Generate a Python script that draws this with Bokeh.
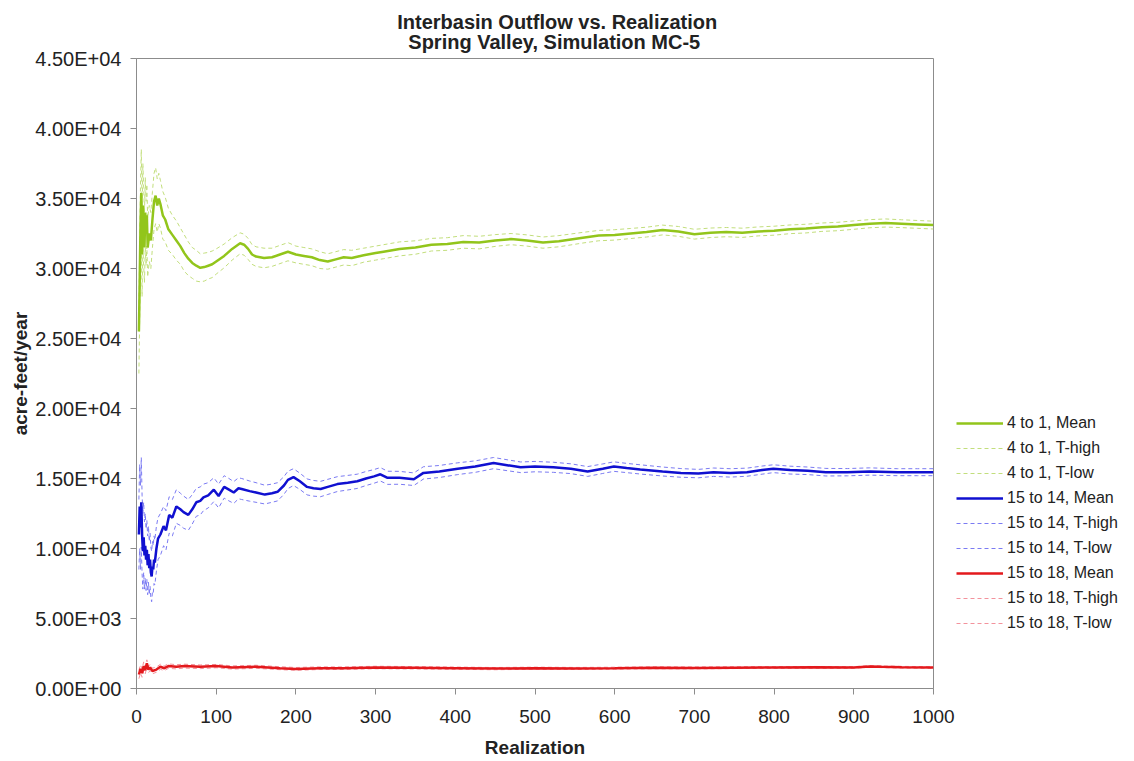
from bokeh.plotting import figure
from bokeh.layouts import row
from bokeh.models import (FixedTicker, CustomJSTickFormatter, Legend, LegendItem,
                          Range1d)
from bokeh.embed import file_html
from bokeh.resources import INLINE

FONT = "Liberation Sans"

title_line1 = "Interbasin Outflow vs. Realization"
title_line2 = "Spring Valley, Simulation MC-5"
x_label = "Realization"
y_label = "acre-feet/year"

x_ticks = [0, 100, 200, 300, 400, 500, 600, 700, 800, 900, 1000]
y_ticks = [0, 5000, 10000, 15000, 20000, 25000, 30000, 35000, 40000, 45000]

# ---- 4 to 1 ----
g_x = [3, 4, 5, 6, 7, 8, 9, 10, 11, 12, 13, 14, 16, 18, 20, 22, 24, 26, 28, 30,
       33, 36, 40, 45, 50, 55, 60, 65, 70, 75, 80, 85, 90, 95, 100, 110, 120, 130,
       135, 140, 145, 150, 160, 170, 180, 190, 200, 210, 220, 230, 240, 250, 260,
       270, 285, 300, 310, 330, 350, 370, 390, 410, 430, 450, 470, 490, 510, 530,
       560, 580, 600, 620, 640, 660, 680, 700, 720, 740, 760, 780, 800, 820, 840,
       860, 880, 900, 920, 940, 960, 980, 1000]
g_mean = [25500, 29000, 33000, 35400, 31000, 34500, 33000, 31500, 34000, 32500,
          33800, 31500, 32500, 32000, 33500, 34800, 35200, 34500, 35000, 34600,
          33800, 33500, 32800, 32400, 32000, 31600, 31100, 30700, 30400, 30200,
          30050, 30100, 30200, 30300, 30500, 30900, 31400, 31800, 31700, 31400,
          31000, 30850, 30750, 30800, 31000, 31200, 31000, 30900, 30800, 30600,
          30500, 30650, 30800, 30750, 30950, 31100, 31200, 31400, 31500, 31700,
          31750, 31900, 31850, 32000, 32100, 32000, 31850, 31950, 32200, 32350,
          32400, 32500, 32600, 32750, 32650, 32450, 32550, 32600, 32550, 32650,
          32700, 32800, 32850, 32950, 33000, 33100, 33200, 33250, 33200, 33150,
          33100]
g_high = [27000, 31500, 36000, 38500, 34000, 37500, 35800, 34000, 36500, 34800,
          36000, 33600, 34500, 34000, 35500, 36800, 37200, 36400, 36800, 36300,
          35500, 35100, 34300, 33800, 33400, 32900, 32400, 31900, 31500, 31300,
          31050, 31100, 31150, 31250, 31400, 31750, 32200, 32550, 32450, 32150,
          31700, 31550, 31450, 31450, 31650, 31850, 31600, 31500, 31400, 31200,
          31050, 31200, 31350, 31300, 31450, 31600, 31700, 31900, 31980, 32150,
          32200, 32350, 32300, 32420, 32500, 32400, 32250, 32350, 32580, 32720,
          32770, 32860, 32950, 33100, 33000, 32800, 32890, 32930, 32880, 32970,
          33020, 33110, 33160, 33250, 33300, 33400, 33490, 33540, 33480, 33430,
          33380]
g_low = [22500, 26500, 30000, 32000, 28000, 31500, 30200, 29000, 31500, 30200,
         31600, 29400, 30500, 30000, 31500, 32800, 33200, 32600, 33200, 32900,
         32100, 31900, 31300, 31000, 30600, 30300, 29800, 29500, 29300, 29100,
         29050, 29100, 29250, 29350, 29600, 30050, 30600, 31050, 30950, 30650,
         30300, 30150, 30050, 30150, 30350, 30550, 30400, 30300, 30200, 30000,
         29950, 30100, 30250, 30200, 30450, 30600, 30700, 30900, 31020, 31250,
         31300, 31450, 31400, 31580, 31700, 31600, 31450, 31550, 31820, 31980,
         32030, 32140, 32250, 32400, 32300, 32100, 32210, 32270, 32220, 32330,
         32380, 32490, 32540, 32650, 32700, 32800, 32910, 32960, 32920, 32870,
         32820]

# ---- 15 to 14 ----
b_x = [3, 4, 5, 6, 7, 8, 9, 10, 11, 12, 13, 14, 15, 16, 17, 18, 19, 20, 21, 22,
       23, 25, 27, 30, 34, 37, 41, 45, 50, 55, 59, 65, 70, 75, 80, 84, 90, 97, 103,
       110, 116, 122, 128, 132, 142, 150, 161, 170, 177, 185, 190, 197, 205, 214,
       222, 231, 240, 252, 265, 277, 288, 298, 306, 315, 330, 348, 360, 380, 403,
       425, 448, 465, 482, 500, 523, 545, 566, 585, 599, 615, 632, 660, 683, 705,
       724, 745, 766, 785, 799, 820, 842, 865, 892, 920, 955, 980, 1000]
b_mean = [11000, 13000, 11500, 13300, 11000, 9800, 10800, 9500, 10200, 9200, 9900,
          8800, 9600, 8600, 9200, 8300, 8000, 8700, 8500, 9200, 9000, 10000, 10700,
          11000, 11600, 11300, 12400, 12200, 13000, 12800, 12600, 12400, 12800,
          13300, 13400, 13650, 13800, 14200, 13750, 14400, 14200, 14000, 14300,
          14250, 14100, 14000, 13850, 13950, 14050, 14500, 14900, 15100, 14800,
          14400, 14300, 14250, 14400, 14600, 14700, 14800, 15000, 15150, 15300,
          15050, 15050, 14950, 15400, 15500, 15700, 15850, 16100, 15950, 15800,
          15850, 15800, 15700, 15500, 15700, 15850, 15750, 15650, 15500, 15400,
          15350, 15450, 15400, 15450, 15600, 15700, 15600, 15550, 15450, 15450,
          15500, 15450, 15450, 15450]
b_high = [13500, 16000, 14500, 16500, 13800, 12500, 13300, 11900, 12500, 11400,
          12000, 10900, 11600, 10500, 11100, 10100, 9800, 10500, 10200, 10900,
          10600, 11600, 12200, 12500, 13000, 12700, 13700, 13500, 14200, 13950,
          13750, 13500, 13850, 14300, 14400, 14600, 14700, 15050, 14600, 15200,
          15000, 14780, 15050, 15000, 14820, 14700, 14520, 14600, 14700, 15130,
          15520, 15700, 15380, 14970, 14860, 14800, 14940, 15130, 15220, 15310,
          15500, 15640, 15780, 15520, 15510, 15400, 15840, 15930, 16120, 16260,
          16500, 16340, 16180, 16220, 16160, 16050, 15850, 16040, 16190, 16080,
          15980, 15820, 15710, 15650, 15750, 15700, 15740, 15890, 15980, 15880,
          15820, 15720, 15710, 15760, 15700, 15700, 15700]
b_low = [8500, 10000, 8500, 10100, 8200, 7100, 8300, 7100, 7900, 7000, 7800, 6700,
         7600, 6700, 7300, 6500, 6200, 6900, 6800, 7500, 7400, 8400, 9200, 9500,
         10200, 9900, 11100, 10900, 11800, 11650, 11450, 11300, 11750, 12300,
         12400, 12700, 12900, 13350, 12900, 13600, 13400, 13220, 13550, 13500,
         13380, 13300, 13180, 13300, 13400, 13870, 14280, 14500, 14220, 13830,
         13740, 13700, 13860, 14070, 14180, 14290, 14500, 14660, 14820, 14580,
         14590, 14500, 14960, 15070, 15280, 15440, 15700, 15560, 15420, 15480,
         15440, 15350, 15150, 15360, 15510, 15420, 15320, 15180, 15090, 15050,
         15150, 15100, 15160, 15310, 15420, 15320, 15280, 15180, 15190, 15240,
         15200, 15200, 15200]

# ---- 15 to 18 ----
r_x = [3, 5, 7, 9, 11, 13, 15, 17, 20, 25, 30, 35, 40, 50, 60, 80, 100, 120, 150,
       180, 200, 230, 260, 300, 350, 400, 450, 500, 550, 600, 650, 700, 750, 800,
       850, 900, 920, 935, 960, 1000]
r_mean = [1000, 1400, 1100, 1600, 1300, 1800, 1350, 1500, 1250, 1350, 1550, 1450,
          1600, 1550, 1600, 1550, 1600, 1500, 1550, 1450, 1400, 1450, 1450, 1500,
          1480, 1450, 1420, 1450, 1430, 1450, 1480, 1470, 1490, 1500, 1510, 1500,
          1580, 1550, 1520, 1500]
r_high = [1300, 1700, 1400, 1900, 1550, 2050, 1580, 1720, 1450, 1540, 1730, 1620,
          1760, 1700, 1740, 1680, 1720, 1615, 1660, 1555, 1500, 1545, 1540, 1590,
          1565, 1530, 1500, 1525, 1505, 1520, 1550, 1540, 1555, 1565, 1575, 1560,
          1640, 1610, 1580, 1560]
r_low = [700, 1100, 800, 1300, 1050, 1550, 1120, 1280, 1050, 1160, 1370, 1280,
         1440, 1400, 1460, 1420, 1480, 1385, 1440, 1345, 1300, 1355, 1360, 1410,
         1395, 1370, 1340, 1375, 1355, 1380, 1410, 1400, 1425, 1435, 1445, 1440,
         1520, 1490, 1460, 1440]

series = [
    ("4 to 1", g_x, g_mean, g_high, g_low, "#92c51b", "#c2de7c"),
    ("15 to 14", b_x, b_mean, b_high, b_low, "#1010d0", "#7b7bf3"),
    ("15 to 18", r_x, r_mean, r_high, r_low, "#e3191c", "#f3929c"),
]

H = 760
nb = "\u00a0"
p = figure(width=955, height=H, x_range=Range1d(0, 1000), y_range=Range1d(0, 45000),
           output_backend="svg", toolbar_location=None,
           title=nb * 8 + title_line1 + "\n" + nb * 10 + title_line2,
           min_border_left=136, min_border_right=22, min_border_top=58,
           min_border_bottom=H - 690)
p.title.align = "center"
p.title.text_font = FONT
p.title.text_font_size = "20px"
p.title.text_font_style = "bold"
p.title.text_color = "#222222"
p.title.standoff = 10
p.title.text_line_height = 0.95

p.background_fill_color = "white"
p.border_fill_color = "white"
p.grid.visible = False
p.outline_line_color = "#8c8c8c"
p.outline_line_width = 1

# legend panel as its own small figure to the right of the chart
lg = figure(width=163, height=H, x_range=Range1d(0, 1), y_range=Range1d(0, 1),
            output_backend="svg", toolbar_location=None,
            min_border_left=0, min_border_right=0, min_border_top=0, min_border_bottom=0)
lg.axis.visible = False
lg.grid.visible = False
lg.outline_line_color = None
lg.background_fill_color = "white"
lg.border_fill_color = "white"

nan = float("nan")
items = []
for name, xs, mean, high, low, col, tcol in series:
    tstyle = dict(line_color=tcol, line_width=1, line_dash="4 3")
    mstyle = dict(line_color=col, line_width=2.5)
    p.line(xs, high, **tstyle)
    p.line(xs, low, **tstyle)
    p.line(xs, mean, **mstyle)
    # invisible legend proxies (no drawable points)
    km = lg.line([nan, nan], [nan, nan], **mstyle)
    kh = lg.line([nan, nan], [nan, nan], **tstyle)
    kl = lg.line([nan, nan], [nan, nan], **tstyle)
    items.append(LegendItem(label=f"{name}, Mean", renderers=[km]))
    items.append(LegendItem(label=f"{name}, T-high", renderers=[kh]))
    items.append(LegendItem(label=f"{name}, T-low", renderers=[kl]))

legend = Legend(items=items, location=(1, 55), padding=0, margin=0,
                spacing=5, glyph_width=47, glyph_height=20, label_height=20,
                label_standoff=4, border_line_color=None, background_fill_alpha=0,
                label_text_font=FONT, label_text_font_size="16px",
                label_text_color="#222222")
lg.add_layout(legend)

fmt = CustomJSTickFormatter(code="""
    let s = tick.toExponential(2).toUpperCase();
    return s.replace(/E([+-])(\\d)$/, 'E$10$2');
""")

for ax in (p.xaxis[0], p.yaxis[0]):
    ax.axis_line_color = "#8c8c8c"
    ax.major_tick_line_color = "#8c8c8c"
    ax.minor_tick_line_color = None
    ax.major_tick_in = 0
    ax.major_tick_out = 6
    ax.major_label_text_font = FONT
    ax.major_label_text_font_size = "19px"
    ax.major_label_text_color = "#222222"
    ax.axis_label_text_font = FONT
    ax.axis_label_text_font_size = "19px"
    ax.axis_label_text_font_style = "bold"
    ax.axis_label_text_color = "#222222"

p.xaxis.ticker = FixedTicker(ticks=x_ticks)
p.yaxis.ticker = FixedTicker(ticks=y_ticks)
p.yaxis.formatter = fmt
p.yaxis.major_label_text_font_size = "20px"
p.xaxis.axis_label = x_label
p.yaxis.axis_label = y_label
p.yaxis.major_label_standoff = 9
p.yaxis.axis_label_standoff = 1
p.xaxis.major_label_standoff = 15
p.xaxis.axis_label_standoff = 11

layout = row(p, lg, spacing=0)
open("out.html", "w").write(file_html(layout, INLINE))
